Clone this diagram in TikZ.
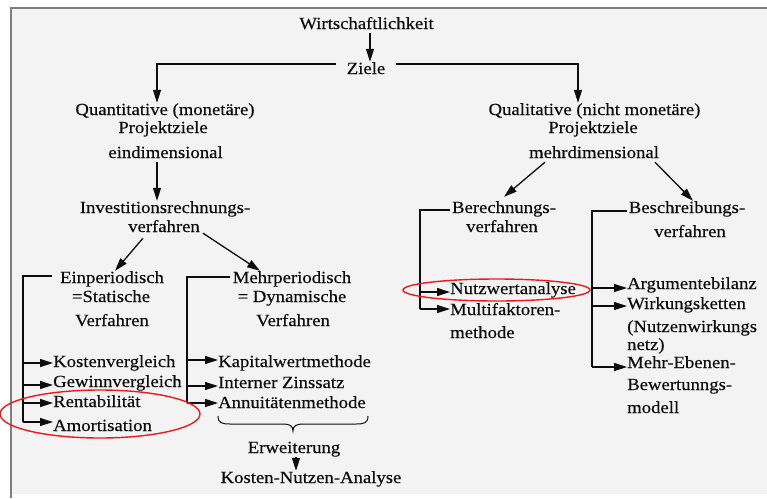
\documentclass[tikz,border=0pt]{standalone}
\usepackage{fontspec}
\setmainfont{Liberation Serif}[FakeStretch=1.1,FakeBold=0.35]
\usetikzlibrary{arrows.meta}
\definecolor{ink}{HTML}{0D0D0D}
\definecolor{panel}{HTML}{F3F3F3}
\definecolor{framegray}{HTML}{7F7F7F}
\definecolor{marker}{HTML}{F01818}
\tikzset{
  lbl/.style={inner sep=0pt, text height=12pt, text depth=4pt,
              font=\fontsize{17}{19}\selectfont, text=ink},
  lc/.style={lbl, anchor=base},
  ll/.style={lbl, anchor=base west},
  wire/.style={draw=ink, line width=1.3pt},
  arr/.style={wire, -{Triangle[length=13pt,width=8pt]}},
  ring/.style={draw=marker, line width=1.4pt},
}
\begin{document}
\begin{tikzpicture}[x=1pt,y=-1pt]
\useasboundingbox (0,0) rectangle (767,498);
% panel and frame
\fill[white] (0,0) rectangle (767,498);
\fill[panel] (11,8) rectangle (767,494);
\draw[framegray, line width=2pt] (11,498) -- (11,8) -- (767,8);

% top
\node[lc] (wirt) at (366.5,29) {Wirtschaftlichkeit};
\node[lc, inner xsep=11pt] (ziele) at (366,74) {Ziele};
\draw[arr] ([xshift=3.5pt]wirt.south) -- ([xshift=4pt]ziele.north);

% quantitative branch
\node[lc] (q1) at (165,115) {Quantitative (monetäre)};
\node[lc] (q2) at (163,133) {Projektziele};
\node[lc] (q3) at (165.5,158) {eindimensional};
\draw[arr] ([yshift=6pt]ziele.west) -| ([xshift=-8pt]q1.north);

\node[lc] (inv1) at (165,213) {Investitionsrechnungs-};
\node[lc] (inv2) at (164,232) {verfahren};
\draw[arr] ([xshift=-8.5pt]q3.south) -- ([xshift=-8pt]inv1.north);

\node[lc] (ein1) at (112,283) {Einperiodisch};
\node[lc] (ein2) at (111,302) {=Statische};
\node[lc] (ein3) at (112,326) {Verfahren};
\node[lc] (mehr1) at (292,283) {Mehrperiodisch};
\node[lc] (mehr2) at (292,302) {= Dynamische};
\node[lc] (mehr3) at (293,326) {Verfahren};
\draw[arr] ([xshift=-21pt,yshift=-2pt]inv2.south) -- ([xshift=3pt]ein1.north);
\draw[arr] ([xshift=39pt,yshift=3pt]inv2.south) -- ([xshift=-32pt]mehr1.north);

% static methods
\node[ll] (kv) at (53,367) {Kostenvergleich};
\node[ll] (gv) at (53,387) {Gewinnvergleich};
\node[ll] (rent) at (53,407) {Rentabilität};
\node[ll] (amort) at (53,431) {Amortisation};
\coordinate (sT) at (23,276);
\coordinate (s1) at (23,363);
\coordinate (s2) at (23,385);
\coordinate (s3) at (23,403);
\coordinate (s4) at (23,422);
\draw[wire] (52,276) -- (sT) -- (s4);
\draw[arr] (s1) -- (s1 -| kv.west);
\draw[arr] (s2) -- (s2 -| gv.west);
\draw[arr] (s3) -- (s3 -| rent.west);
\draw[arr] (s4) -- (s4 -| amort.west);

% dynamic methods
\node[ll] (kap) at (218,367) {Kapitalwertmethode};
\node[ll] (intz) at (218,388) {Interner Zinssatz};
\node[ll] (annu) at (218,408) {Annuitätenmethode};
\coordinate (dT) at (187,277);
\coordinate (d1) at (187,360);
\coordinate (d2) at (187,386);
\coordinate (d3) at (187,403);
\draw[wire] (230,277) -- (dT) -- (d3);
\draw[arr] (d1) -- (d1 -| kap.west);
\draw[arr] (d2) -- (d2 -| intz.west);
\draw[arr] (d3) -- (d3 -| annu.west);

% brace and extension
\draw[ink, line width=1pt] (218,416) .. controls (218,423) and (222,424) .. (230,424)
  -- (283,424) .. controls (290,424) and (293,426) .. (293,431)
  .. controls (293,426) and (296,424) .. (303,424)
  -- (356,424) .. controls (364,424) and (368,423) .. (368,416);
\node[lc] (erw) at (294,453) {Erweiterung};
\node[lc] (kna) at (311,483) {Kosten-Nutzen-Analyse};
\draw[arr] ([xshift=2pt]erw.south) -- ([xshift=-15pt]kna.north);

% qualitative branch
\node[lc] (ql1) at (594.5,115) {Qualitative (nicht monetäre)};
\node[lc] (ql2) at (593,133) {Projektziele};
\node[lc] (ql3) at (594,158) {mehrdimensional};
\draw[arr] ([yshift=6pt]ziele.east) -| ([xshift=-16.5pt]ql1.north);

\node[lc] (ber1) at (504,213) {Berechnungs-};
\node[lc] (ber2) at (502,232) {verfahren};
\node[lc] (besch1) at (687,213) {Beschreibungs-};
\node[lc] (besch2) at (690,237) {verfahren};
\draw[arr] ([xshift=-49pt]ql3.south) -- ([yshift=4pt]ber1.north);
\draw[arr] ([xshift=61pt]ql3.south) -- ([xshift=6pt]besch1.north);

% calculation methods
\node[ll] (nwa) at (450,294) {Nutzwertanalyse};
\node[ll] (mf1) at (450,315) {Multifaktoren-};
\node[ll] (mf2) at (450,338) {methode};
\coordinate (bT) at (420,210);
\coordinate (b1) at (420,292);
\coordinate (b2) at (420,309);
\draw[wire] (450,210) -- (bT) -- (b2);
\draw[arr] (b1) -- (b1 -| nwa.west);
\draw[arr] (b2) -- (b2 -| mf1.west);

% descriptive methods
\node[ll] (arg) at (627,289) {Argumentebilanz};
\node[ll] (wirk) at (627,309) {Wirkungsketten};
\node[ll] (nwn1) at (627,332) {(Nutzenwirkungs};
\node[ll] (nwn2) at (627,350) {netz)};
\node[ll] (meb1) at (627,368) {Mehr-Ebenen-};
\node[ll] (meb2) at (627,390) {Bewertunngs-};
\node[ll] (meb3) at (627,413) {modell};
\coordinate (cT) at (592,211);
\coordinate (c1) at (592,288);
\coordinate (c2) at (592,306);
\coordinate (c3) at (592,367);
\draw[wire] (627,211) -- (cT) -- (c3);
\draw[arr] (c1) -- (c1 -| arg.west);
\draw[arr] (c2) -- (c2 -| wirk.west);
\draw[arr] (c3) -- (c3 -| meb1.west);

% highlights
\draw[ring] (100,414) ellipse [x radius=100pt, y radius=24pt];
\draw[ring] (496.5,290) ellipse [x radius=93.5pt, y radius=11pt];
\end{tikzpicture}
\end{document}
